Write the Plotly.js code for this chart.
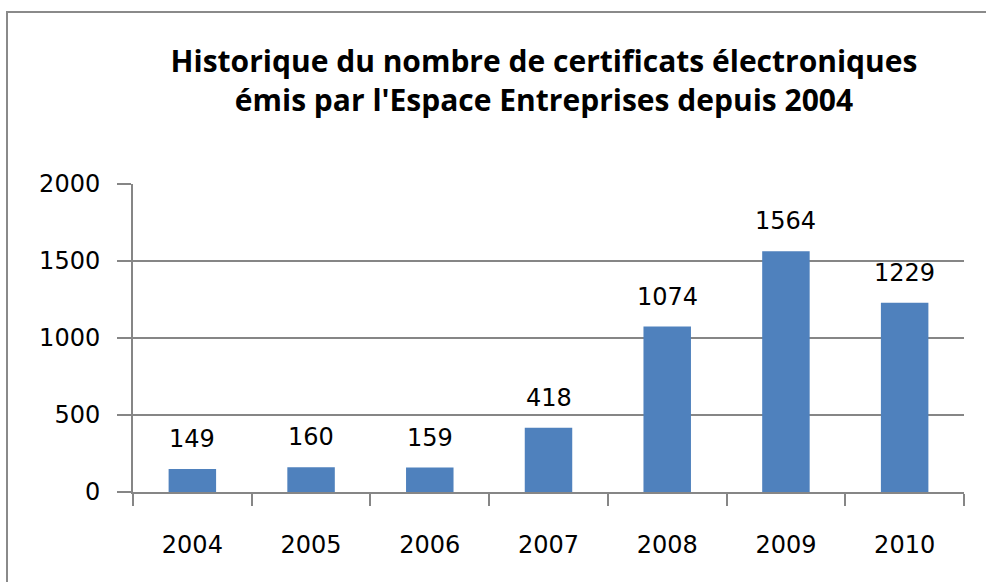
<!DOCTYPE html>
<html>
<head>
<meta charset="utf-8">
<script src="https://cdn.plot.ly/plotly-3.0.1.min.js"></script>
<style>
html,body{margin:0;padding:0;background:#fff;}
#wrap{position:relative;width:986px;height:582px;overflow:hidden;}
#chart{position:absolute;left:0;top:0;width:986px;height:582px;}
#frame{position:absolute;left:6px;top:11px;width:990px;height:600px;border-top:2px solid #8a8a8a;border-left:2px solid #8a8a8a;pointer-events:none;}
</style>
</head>
<body>
<div id="wrap"><div id="chart"></div><div id="frame"></div></div>
<script>
var years = ["2004","2005","2006","2007","2008","2009","2010"];
var certificats = [149, 160, 159, 418, 1074, 1564, 1229];
var yTicks = [0, 500, 1000, 1500, 2000];
var titleText = "Historique du nombre de certificats électroniques<br>émis par l'Espace Entreprises depuis 2004";

var grey = "#868686";
var tickFont = {family: "DejaVu Sans", size: 24, color: "#000"};

var trace = {
  type: "bar",
  x: years,
  y: certificats,
  marker: {color: "#4f81bd"},
  hoverinfo: "x+y"
};

var annotations = years.map(function(yr, i){
  return {
    x: i, y: certificats[i], xref: "x", yref: "y",
    text: String(certificats[i]), showarrow: false,
    yanchor: "bottom", yshift: 14,
    font: tickFont
  };
});

var layout = {
  width: 986, height: 582,
  margin: {l: 133, r: 22, t: 184, b: 90, pad: 0},
  paper_bgcolor: "#fff", plot_bgcolor: "#fff",
  showlegend: false,
  bargap: 0.6,
  title: {
    text: titleText,
    x: 544/986, xref: "container", xanchor: "center",
    y: 1 - 72/582, yref: "container", yanchor: "middle",
    font: {family: "Open Sans", size: 30, color: "#000", weight: "bold"}
  },
  xaxis: {
    type: "category",
    range: [-0.5, years.length - 0.5],
    showline: true, linecolor: grey, linewidth: 2,
    ticks: "outside", tickson: "boundaries", ticklen: 12, tickcolor: grey, tickwidth: 2,
    tickfont: tickFont, ticklabelstandoff: 30, tickangle: 0,
    showgrid: false, zeroline: false, fixedrange: true
  },
  yaxis: {
    range: [0, 2000],
    tickvals: yTicks, ticktext: yTicks.map(String),
    showline: true, linecolor: grey, linewidth: 2,
    ticks: "outside", ticklen: 14, tickcolor: grey, tickwidth: 2,
    tickfont: tickFont, ticklabelstandoff: 12,
    showgrid: true, gridcolor: grey, gridwidth: 2,
    zeroline: false, fixedrange: true
  },
  annotations: annotations
};

Plotly.newPlot("chart", [trace], layout, {displayModeBar: false, staticPlot: true});
</script>
</body>
</html>
